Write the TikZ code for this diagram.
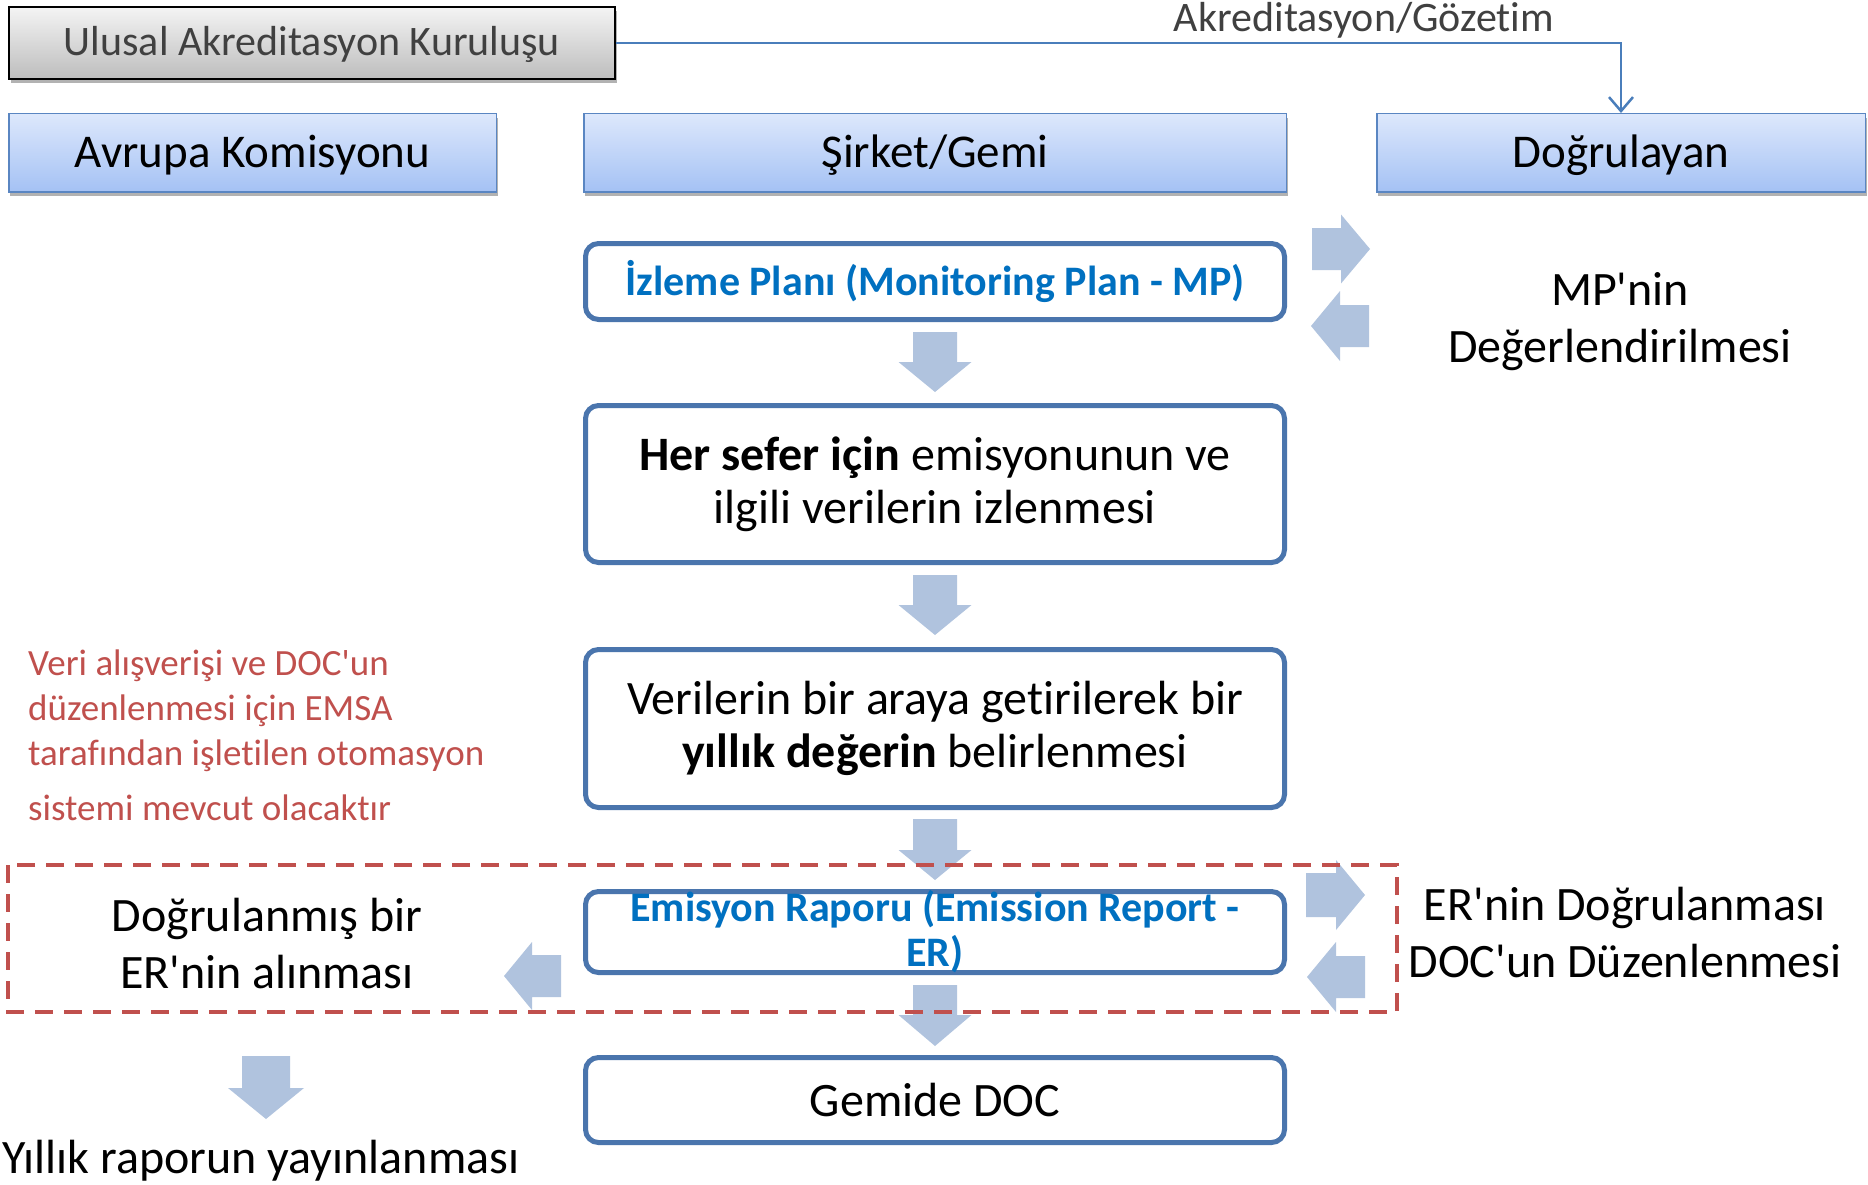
\documentclass[tikz,border=0pt]{standalone}
\usepackage{fontspec}
\setmainfont{Carlito}[Ligatures={TeXOff,NoCommon}]
\usetikzlibrary{shadows,arrows.meta}
\definecolor{hdrtop}{HTML}{DDE8FC}
\definecolor{hdrbot}{HTML}{A4C1F4}
\definecolor{hdrline}{HTML}{5A86C2}
\definecolor{flowline}{HTML}{4A75AD}
\definecolor{arrowfill}{HTML}{B0C3DE}
\definecolor{titleblue}{HTML}{0070C0}
\definecolor{noteRed}{HTML}{C0504D}
\definecolor{darkgraytxt}{HTML}{404040}
\definecolor{connblue}{HTML}{4A7EBB}
\definecolor{graytop}{HTML}{F4F4F4}
\definecolor{graybot}{HTML}{BDBDBD}
\newcommand\myfontH{\fontsize{47}{52}\selectfont}
\newcommand\myfontF{\fontsize{48}{53}\selectfont}
\newcommand\myfontT{\fontsize{42}{45}\selectfont\bfseries}
\newcommand\myfontG{\fontsize{42}{46}\selectfont}
\newcommand\myfontS{\fontsize{48}{57}\selectfont}
\newcommand\myfontR{\fontsize{37}{45}\selectfont}
\newcommand\blockv[6]{\fill[arrowfill] (#1-#5,#2) -- (#1+#5,#2) -- (#1+#5,#3) -- (#1+#6,#3) -- (#1,#4) -- (#1-#6,#3) -- (#1-#5,#3) -- cycle;}
\newcommand\blockh[6]{\fill[arrowfill] (#2,#1-#5) -- (#3,#1-#5) -- (#3,#1-#6) -- (#4,#1) -- (#3,#1+#6) -- (#3,#1+#5) -- (#2,#1+#5) -- cycle;}
\tikzset{
  hdr/.style={draw=hdrline, line width=1.5pt, top color=hdrtop, bottom color=hdrbot,
    minimum height=78.5pt, inner sep=0pt, text height=30pt, text depth=0pt, font=\myfontH,
    drop shadow={shadow xshift=1.5pt, shadow yshift=-4pt, opacity=0.3, fill=black}},
  graybox/.style={draw=black, line width=2pt, top color=graytop, bottom color=graybot,
    minimum width=606pt, minimum height=72pt, inner sep=0pt, text height=26pt, text depth=0pt,
    font=\myfontG, text=darkgraytxt,
    drop shadow={shadow xshift=1.5pt, shadow yshift=-4pt, opacity=0.3, fill=black}},
  flow/.style={draw=flowline, line width=5pt, rounded corners=13pt, fill=white,
    minimum width=699pt, inner sep=0pt, align=center, font=\myfontF},
  conn/.style={draw=connblue, line width=2.5pt, -{Straight Barb[length=14pt,width=24pt]}},
  dashbox/.style={draw=noteRed, line width=4pt, dash pattern=on 18pt off 11pt},
  plain/.style={inner sep=0pt, align=center, font=\myfontS},
}
\begin{document}
\begin{tikzpicture}[x=1pt,y=-1pt]
\fill[white] (0,0) rectangle (1868,1185);
\useasboundingbox (0,0) rectangle (1868,1185);

% top boxes
\node[graybox] (nab) at (312,43) {Ulusal Akreditasyon Kuruluşu};
\node[hdr, minimum width=487.5pt] (ec) at (252.5,153) {Avrupa Komisyonu};
\node[hdr, minimum width=702.5pt] (comp) at (935,153) {Şirket/Gemi};
\node[hdr, minimum width=488.5pt] (ver) at (1621,153) {Doğrulayan};

% accreditation connector
\draw[conn] (nab.east) -- (nab.east -| ver.north) -- (ver.north);
\node[inner sep=0pt, font=\myfontG, text=darkgraytxt, anchor=base] (akr) at (1364,32) {Akreditasyon/Gözetim};

% block arrows
\blockv{935}{332}{362}{392}{22}{36.5}
\blockv{935}{575}{605}{635}{22}{36.5}
\blockv{935}{819}{850}{880}{22}{36.5}
\blockv{935}{985}{1015}{1046}{22}{36.5}
\blockv{266}{1056}{1088}{1119}{24}{38}
\blockh{249}{1312}{1341}{1370}{21}{34.5}
\blockh{326}{1369}{1340}{1311}{21}{35}
\blockh{895}{1306}{1336}{1365}{22}{35}
\blockh{977}{1365}{1336}{1307}{21}{35}
\blockh{976}{561}{532}{504}{21}{34}

% flow boxes
\node[flow, minimum height=76pt, font=\myfontT, text=titleblue] (mp) at (935,281.5) {İzleme Planı (Monitoring Plan - MP)};
\node[flow, minimum height=157pt] (mon) at (935,484) {\textbf{Her sefer için} emisyonunun ve\\ilgili verilerin izlenmesi};
\node[flow, minimum height=158pt] (agg) at (935,728.5) {Verilerin bir araya getirilerek bir\\\textbf{yıllık değerin} belirlenmesi};
\node[flow, minimum height=81pt] (er) at (935,932) {};
\node[inner sep=0pt, align=center, font=\myfontT, text=titleblue] (ertxt) at (er.center) {Emisyon Raporu (Emission Report -\\ER)};
\node[flow, minimum height=85pt] (doc) at (935,1100) {Gemide DOC};

% dashed region
\draw[dashbox] (8,865) rectangle (1397,1012);

% side texts
\node[plain] (mpev) at (1620,322) {MP'nin\\Değerlendirilmesi};
\node[plain] (ereval) at (1625,932.5) {ER'nin Doğrulanması\\DOC'un Düzenlenmesi};
\node[plain] (recv) at (267,943.5) {Doğrulanmış bir\\ER'nin alınması};
\node[plain, anchor=base] (pub) at (261,1173) {Yıllık raporun yayınlanması};
\node[inner sep=0pt, align=left, font=\myfontR, text=noteRed, anchor=north west] (emsa) at (28,650)
  {Veri alışverişi ve DOC'un\\düzenlenmesi için EMSA\\tarafından işletilen otomasyon\\[10pt]sistemi mevcut olacaktır};
\end{tikzpicture}
\end{document}
